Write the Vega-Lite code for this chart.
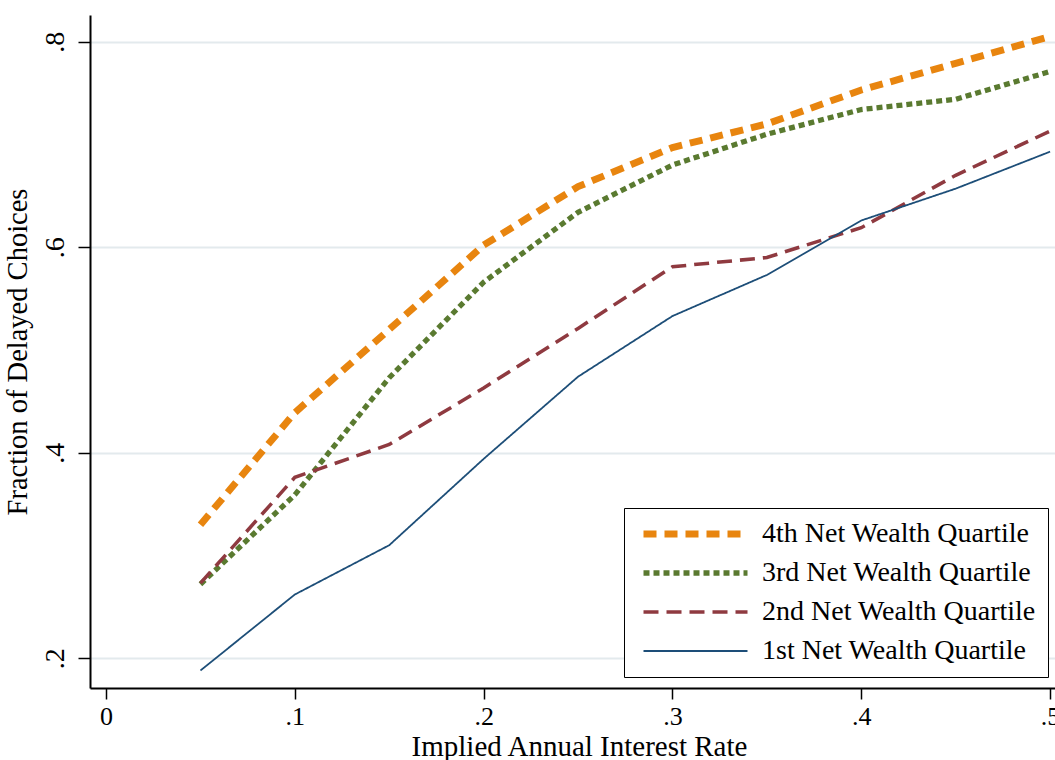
{
  "$schema": "https://vega.github.io/schema/vega-lite/v6.json",
  "width": 965,
  "height": 673,
  "autosize": {"type": "none"},
  "padding": {"left": 90, "top": 15, "right": 0, "bottom": 72},
  "background": "white",
  "config": {
    "view": {"stroke": null},
    "font": "Liberation Serif"
  },
  "data": {
    "values": [
      {"rate": 0.05, "frac": 0.330, "q": "4th Net Wealth Quartile"},
      {"rate": 0.10, "frac": 0.439, "q": "4th Net Wealth Quartile"},
      {"rate": 0.15, "frac": 0.520, "q": "4th Net Wealth Quartile"},
      {"rate": 0.20, "frac": 0.602, "q": "4th Net Wealth Quartile"},
      {"rate": 0.25, "frac": 0.659, "q": "4th Net Wealth Quartile"},
      {"rate": 0.30, "frac": 0.697, "q": "4th Net Wealth Quartile"},
      {"rate": 0.35, "frac": 0.720, "q": "4th Net Wealth Quartile"},
      {"rate": 0.40, "frac": 0.753, "q": "4th Net Wealth Quartile"},
      {"rate": 0.45, "frac": 0.779, "q": "4th Net Wealth Quartile"},
      {"rate": 0.50, "frac": 0.805, "q": "4th Net Wealth Quartile"},
      {"rate": 0.05, "frac": 0.272, "q": "3rd Net Wealth Quartile"},
      {"rate": 0.10, "frac": 0.359, "q": "3rd Net Wealth Quartile"},
      {"rate": 0.15, "frac": 0.473, "q": "3rd Net Wealth Quartile"},
      {"rate": 0.20, "frac": 0.566, "q": "3rd Net Wealth Quartile"},
      {"rate": 0.25, "frac": 0.634, "q": "3rd Net Wealth Quartile"},
      {"rate": 0.30, "frac": 0.680, "q": "3rd Net Wealth Quartile"},
      {"rate": 0.35, "frac": 0.710, "q": "3rd Net Wealth Quartile"},
      {"rate": 0.40, "frac": 0.734, "q": "3rd Net Wealth Quartile"},
      {"rate": 0.45, "frac": 0.744, "q": "3rd Net Wealth Quartile"},
      {"rate": 0.50, "frac": 0.771, "q": "3rd Net Wealth Quartile"},
      {"rate": 0.05, "frac": 0.273, "q": "2nd Net Wealth Quartile"},
      {"rate": 0.10, "frac": 0.376, "q": "2nd Net Wealth Quartile"},
      {"rate": 0.15, "frac": 0.408, "q": "2nd Net Wealth Quartile"},
      {"rate": 0.20, "frac": 0.463, "q": "2nd Net Wealth Quartile"},
      {"rate": 0.25, "frac": 0.521, "q": "2nd Net Wealth Quartile"},
      {"rate": 0.30, "frac": 0.581, "q": "2nd Net Wealth Quartile"},
      {"rate": 0.35, "frac": 0.590, "q": "2nd Net Wealth Quartile"},
      {"rate": 0.40, "frac": 0.619, "q": "2nd Net Wealth Quartile"},
      {"rate": 0.45, "frac": 0.670, "q": "2nd Net Wealth Quartile"},
      {"rate": 0.50, "frac": 0.713, "q": "2nd Net Wealth Quartile"},
      {"rate": 0.05, "frac": 0.188, "q": "1st Net Wealth Quartile"},
      {"rate": 0.10, "frac": 0.262, "q": "1st Net Wealth Quartile"},
      {"rate": 0.15, "frac": 0.310, "q": "1st Net Wealth Quartile"},
      {"rate": 0.20, "frac": 0.394, "q": "1st Net Wealth Quartile"},
      {"rate": 0.25, "frac": 0.474, "q": "1st Net Wealth Quartile"},
      {"rate": 0.30, "frac": 0.533, "q": "1st Net Wealth Quartile"},
      {"rate": 0.35, "frac": 0.573, "q": "1st Net Wealth Quartile"},
      {"rate": 0.40, "frac": 0.626, "q": "1st Net Wealth Quartile"},
      {"rate": 0.45, "frac": 0.657, "q": "1st Net Wealth Quartile"},
      {"rate": 0.50, "frac": 0.693, "q": "1st Net Wealth Quartile"}
    ]
  },
  "mark": {"type": "line", "strokeCap": "butt", "clip": true},
  "encoding": {
    "x": {
      "field": "rate", "type": "quantitative",
      "scale": {"domain": [-0.0085, 0.5026], "nice": false, "zero": false},
      "axis": {
        "title": "Implied Annual Interest Rate",
        "values": [0, 0.1, 0.2, 0.3, 0.4, 0.5],
        "labelExpr": "datum.value == 0 ? '0' : replace(format(datum.value, '.1f'), '0.', '.')",
        "grid": false,
        "domainColor": "black", "domainWidth": 2,
        "tickColor": "black", "tickWidth": 1.5, "tickSize": 11,
        "labelFont": "Liberation Serif", "labelFontSize": 26, "labelColor": "black",
        "labelPadding": 4, "labelFlush": false, "labelOverlap": false,
        "titleFont": "Liberation Serif", "titleFontSize": 29, "titleFontWeight": "normal",
        "titleColor": "black", "titlePadding": 3, "titleX": 489
      }
    },
    "y": {
      "field": "frac", "type": "quantitative",
      "scale": {"domain": [0.171, 0.826], "nice": false, "zero": false},
      "axis": {
        "title": "Fraction of Delayed Choices",
        "values": [0.2, 0.4, 0.6, 0.8],
        "labelExpr": "replace(format(datum.value, '.1f'), '0.', '.')",
        "grid": true, "gridColor": "#E3EAED", "gridWidth": 2,
        "domainColor": "black", "domainWidth": 2,
        "tickColor": "black", "tickWidth": 1.5, "tickSize": 12,
        "labelAngle": -90, "labelAlign": "center", "labelBaseline": "bottom",
        "labelFont": "Liberation Serif", "labelFontSize": 28, "labelColor": "black",
        "labelPadding": 9, "labelFlush": false, "labelOverlap": false,
        "titleFont": "Liberation Serif", "titleFontSize": 28.5, "titleFontWeight": "normal",
        "titleColor": "black", "titlePadding": 9
      }
    },
    "color": {
      "field": "q", "type": "nominal",
      "scale": {
        "domain": ["4th Net Wealth Quartile", "3rd Net Wealth Quartile", "2nd Net Wealth Quartile", "1st Net Wealth Quartile"],
        "range": ["#E8850F", "#5A7A30", "#8F3A40", "#1D4E78"]
      },
      "legend": {
        "title": null,
        "orient": "none", "legendX": 534, "legendY": 493,
        "direction": "vertical",
        "strokeColor": "black", "fillColor": "white", "padding": 12,
        "symbolType": "M-1,0H15", "symbolSize": 169,
        "labelFont": "Liberation Serif", "labelFontSize": 28, "labelColor": "black",
        "labelOffset": 98, "rowPadding": 11, "labelLimit": 400
      }
    },
    "strokeDash": {
      "field": "q", "type": "nominal",
      "scale": {
        "domain": ["4th Net Wealth Quartile", "3rd Net Wealth Quartile", "2nd Net Wealth Quartile", "1st Net Wealth Quartile"],
        "range": [[13, 8], [6, 4], [15, 8], [1, 0]]
      },
      "legend": null
    },
    "strokeWidth": {
      "field": "q", "type": "nominal",
      "scale": {
        "domain": ["4th Net Wealth Quartile", "3rd Net Wealth Quartile", "2nd Net Wealth Quartile", "1st Net Wealth Quartile"],
        "range": [7, 1.8, 2.2, 2.2]
      },
      "legend": null
    }
  }
}
